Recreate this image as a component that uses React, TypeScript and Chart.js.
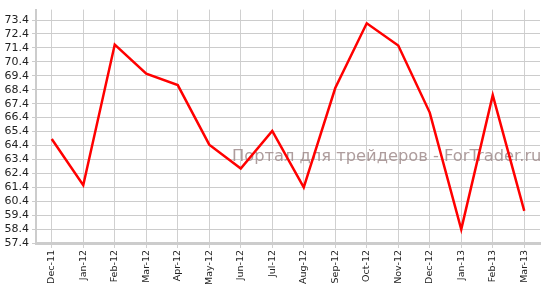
import React, { useEffect, useRef } from "react";
import { Chart, registerables } from "chart.js";

Chart.register(...registerables);

const categories = [
  "Dec-11", "Jan-12", "Feb-12", "Mar-12", "Apr-12", "May-12", "Jun-12", "Jul-12",
  "Aug-12", "Sep-12", "Oct-12", "Nov-12", "Dec-12", "Jan-13", "Feb-13", "Mar-13",
];
const values = [
  64.86, 61.55, 71.64, 69.55, 68.73, 64.46, 62.74, 65.44,
  61.39, 68.52, 73.17, 71.57, 66.76, 58.38, 68.01, 59.7,
];
const yTicks = [57.4, 58.4, 59.4, 60.4, 61.4, 62.4, 63.4, 64.4, 65.4, 66.4, 67.4, 68.4, 69.4, 70.4, 71.4, 72.4, 73.4];
const watermark = "Портал для трейдеров - ForTrader.ru";

export default function App() {
  const ref = useRef<HTMLCanvasElement | null>(null);
  useEffect(() => {
    if (!ref.current) return;
    const wmPlugin = {
      id: "wm",
      beforeDatasetsDraw(chart: any) {
        const ctx = chart.ctx;
        ctx.save();
        ctx.font = "16.3px 'DejaVu Sans'";
        ctx.fillStyle = "rgba(160,140,140,0.85)";
        ctx.textBaseline = "alphabetic";
        ctx.textAlign = "left";
        ctx.fillText(watermark, 232, 161);
        ctx.restore();
      },
    };
    const chart = new Chart(ref.current, {
      type: "line",
      data: {
        labels: categories,
        datasets: [
          {
            data: values,
            borderColor: "#ff0000",
            borderWidth: 2.5,
            pointRadius: 0,
            tension: 0,
            fill: false,
          },
        ],
      },
      options: {
        responsive: false,
        animation: false,
        events: [],
        layout: { padding: { top: 5, right: 8, left: 0, bottom: 0 } },
        plugins: { legend: { display: false }, tooltip: { enabled: false } },
        scales: {
          x: {
            offset: true,
            grid: { color: "#d0d0d0", lineWidth: 1, tickLength: 5, offset: false },
            border: { color: "#cccccc", width: 3 },
            ticks: {
              color: "#222",
              font: { family: "'DejaVu Sans'", size: 9.5 },
              maxRotation: 90,
              minRotation: 90,
              autoSkip: false,
              padding: 2,
            },
            afterFit(scale: any) {
              scale.height = 45;
            },
          },
          y: {
            min: 57.4,
            max: 74.15,
            grid: { color: "#cccccc", lineWidth: 1, tickLength: 4 },
            border: { color: "#cccccc", width: 2 },
            ticks: {
              color: "#222",
              font: { family: "'DejaVu Sans'", size: 11 },
              padding: 3,
              autoSkip: false,
              callback: (v: any) => Number(v).toFixed(1),
            },
            afterBuildTicks(scale: any) {
              scale.ticks = yTicks.map((v) => ({ value: v }));
            },
            afterFit(scale: any) {
              scale.width = 36;
            },
          },
        },
      },
      plugins: [wmPlugin],
    });
    return () => chart.destroy();
  }, []);
  return (
    <div style={{ position: "fixed", left: 0, top: 0, width: 548, height: 288, background: "#fff" }}>
      <canvas ref={ref} width={548} height={288} style={{ display: "block" }} />
    </div>
  );
}
